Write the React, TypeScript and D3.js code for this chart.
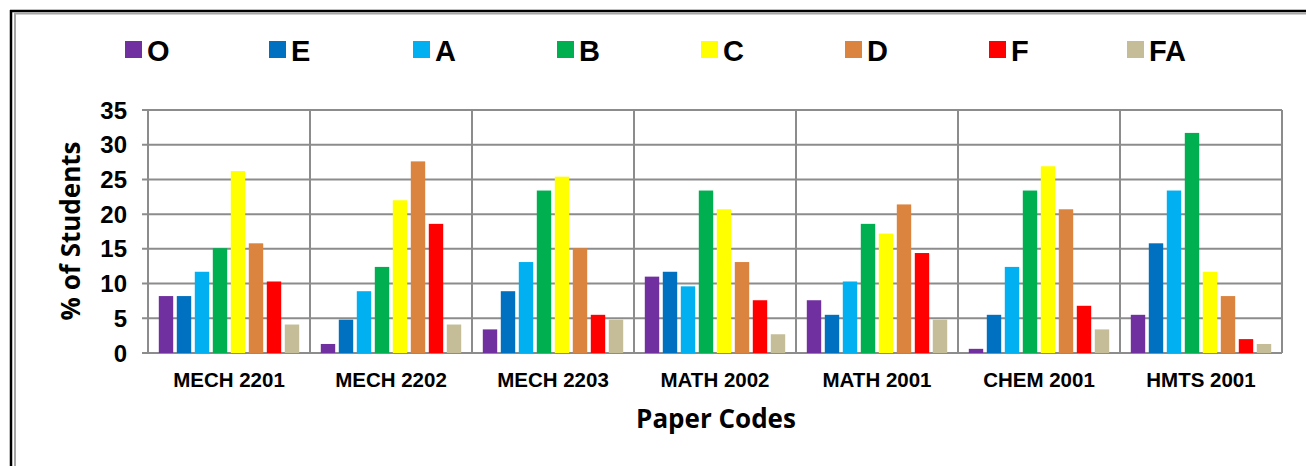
import React from "react";
import * as d3 from "d3";

const categories = ["MECH 2201", "MECH 2202", "MECH 2203", "MATH 2002", "MATH 2001", "CHEM 2001", "HMTS 2001"];
const seriesNames = ["O", "E", "A", "B", "C", "D", "F", "FA"];
const seriesColors = ["#7030A0", "#0070C0", "#00B0F0", "#00B050", "#FFFF00", "#DB843F", "#FF0000", "#C4BD97"];

const valuesO = [8.2, 1.3, 3.4, 11.0, 7.6, 0.6, 5.5];
const valuesE = [8.2, 4.8, 8.9, 11.7, 5.5, 5.5, 15.8];
const valuesA = [11.7, 8.9, 13.1, 9.6, 10.3, 12.4, 23.4];
const valuesB = [15.1, 12.4, 23.4, 23.4, 18.6, 23.4, 31.7];
const valuesC = [26.2, 22.0, 25.4, 20.7, 17.2, 26.9, 11.7];
const valuesD = [15.8, 27.6, 15.1, 13.1, 21.4, 20.7, 8.2];
const valuesF = [10.3, 18.6, 5.5, 7.6, 14.4, 6.8, 2.0];
const valuesFA = [4.1, 4.1, 4.8, 2.7, 4.8, 3.4, 1.3];

const seriesValues = [valuesO, valuesE, valuesA, valuesB, valuesC, valuesD, valuesF, valuesFA];
const yTicks = [0, 5, 10, 15, 20, 25, 30, 35];

export default function App() {
  const W = 1306, H = 466;
  const left = 148, right = 1282, top = 110, bottom = 353;
  const x0 = d3.scaleBand<string>().domain(categories).range([left, right]).paddingInner(0).paddingOuter(0);
  const x1 = d3.scaleBand<string>().domain(seriesNames).range([0, x0.bandwidth()]).paddingInner(0.2).paddingOuter(0.6);
  const y = d3.scaleLinear().domain([0, 35]).range([bottom, top]);
  const legendX = d3.scalePoint<string>().domain(seriesNames).range([125, 1133]);
  const grid = "#8c8c8c";
  const arial = "Arial, 'Liberation Sans', sans-serif";

  return (
    <svg width={W} height={H} style={{ position: "absolute", left: 0, top: 0, background: "#fff" }}>
      {/* frame */}
      <line x1={11} y1={10} x2={11} y2={H} stroke="#000" strokeWidth={2.5} />
      <line x1={10} y1={11} x2={W} y2={11} stroke="#000" strokeWidth={2.5} />
      <line x1={15} y1={13.5} x2={15} y2={H} stroke="#a6a6a6" strokeWidth={2} />
      <line x1={14} y1={13.5} x2={W} y2={13.5} stroke="#a6a6a6" strokeWidth={2} />

      {/* legend */}
      {seriesNames.map((s, i) => {
        const lx = (legendX(s) as number) - (s === "FA" ? 6 : 0);
        return (
          <g key={s}>
            <rect x={lx} y={41} width={17} height={17} fill={seriesColors[i]} />
            <text x={lx + 22} y={61} fontFamily={arial} fontWeight="bold" fontSize={29} fill="#000">{s}</text>
          </g>
        );
      })}

      {/* gridlines */}
      {yTicks.map((t) => (
        <line key={t} x1={left - 6} x2={right} y1={y(t)} y2={y(t)} stroke={grid} strokeWidth={2} />
      ))}
      {categories.map((c) => (
        <line key={c} x1={x0(c)} x2={x0(c)} y1={top} y2={bottom} stroke={grid} strokeWidth={2} />
      ))}
      <line x1={right} x2={right} y1={top} y2={bottom} stroke={grid} strokeWidth={2} />

      {/* bars */}
      {categories.map((c, ci) => (
        <g key={c} transform={`translate(${x0(c)},0)`}>
          {seriesNames.map((s, si) => {
            const v = seriesValues[si][ci];
            return (
              <rect key={s} x={x1(s)} y={y(v)} width={x1.bandwidth()} height={bottom - y(v)} fill={seriesColors[si]} />
            );
          })}
        </g>
      ))}

      {/* y tick labels */}
      {yTicks.map((t) => (
        <text key={t} x={127} y={y(t)} dy="0.36em" textAnchor="end" fontFamily={arial} fontWeight="bold" fontSize={24} fill="#000">{t}</text>
      ))}

      {/* x tick labels */}
      {categories.map((c) => (
        <text key={c} x={(x0(c) as number) + x0.bandwidth() / 2} y={387} textAnchor="middle" fontFamily={arial} fontWeight="bold" fontSize={20.5} fill="#000">{c}</text>
      ))}

      {/* axis titles */}
      <text x={716} y={428} textAnchor="middle" fontFamily="'Open Sans', sans-serif" fontWeight="bold" fontSize={26} fill="#000">Paper Codes</text>
      <text transform={`translate(80,231) rotate(-90)`} textAnchor="middle" fontFamily="'Open Sans', sans-serif" fontWeight="bold" fontSize={26} fill="#000">% of Students</text>
    </svg>
  );
}
